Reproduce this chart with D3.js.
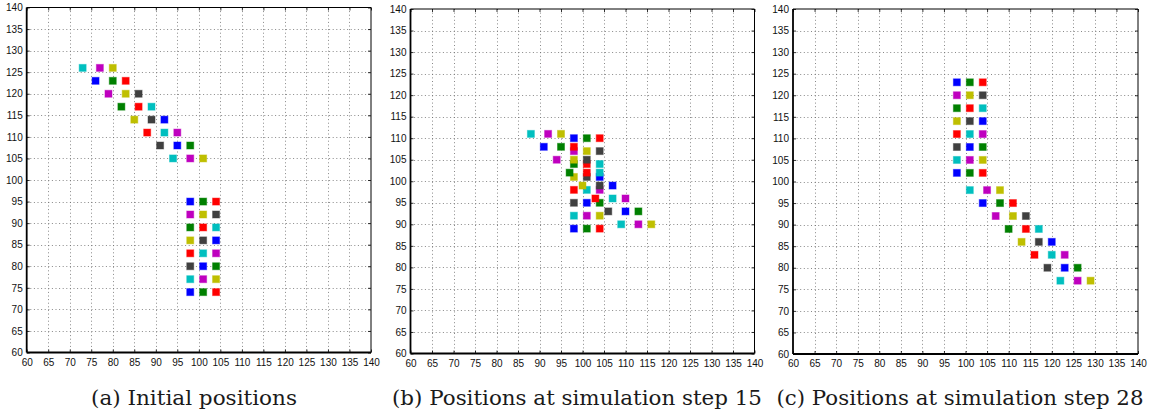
<!DOCTYPE html>
<html>
<head>
<meta charset="utf-8">
<script src="https://cdn.jsdelivr.net/npm/d3@7"></script>
<style>
  html, body { margin: 0; padding: 0; background: #fff; }
  svg { display: block; }
  .cap { font-family: "DejaVu Serif", serif; }
</style>
</head>
<body>
<svg id="chart" width="1151" height="418"></svg>
<script>
// ---------- data ----------
const xTicks = d3.range(60, 141, 5);
const yTicks = d3.range(60, 141, 5);
const colorKeys = ["b", "g", "r", "c", "m", "y", "k"];
const colorValues = ["#0000ff", "#008000", "#ff0000", "#00bfbf", "#bf00bf", "#bfbf00", "#404040"];

const captions = [
  "(a) Initial positions",
  "(b) Positions at simulation step 15",
  "(c) Positions at simulation step 28"
];

// Panel (a): initial positions  [x, y, colour]
const initialRect = [
  [98,95,"b"],[101,95,"g"],[104,95,"r"],
  [98,92,"m"],[101,92,"y"],[104,92,"k"],
  [98,89,"g"],[101,89,"r"],[104,89,"c"],
  [98,86,"y"],[101,86,"k"],[104,86,"b"],
  [98,83,"r"],[101,83,"c"],[104,83,"m"],
  [98,80,"k"],[101,80,"b"],[104,80,"g"],
  [98,77,"c"],[101,77,"m"],[104,77,"y"],
  [98,74,"b"],[101,74,"g"],[104,74,"r"]
];
const initialDiag = [
  [73,126,"c"],[77,126,"m"],[80,126,"y"],
  [76,123,"b"],[80,123,"g"],[83,123,"r"],
  [79,120,"m"],[83,120,"y"],[86,120,"k"],
  [82,117,"g"],[86,117,"r"],[89,117,"c"],
  [85,114,"y"],[89,114,"k"],[92,114,"b"],
  [88,111,"r"],[92,111,"c"],[95,111,"m"],
  [91,108,"k"],[95,108,"b"],[98,108,"g"],
  [94,105,"c"],[98,105,"m"],[101,105,"y"]
];

// Panel (b): step 15
const step15Rect = [
  [98,110,"b"],[101,110,"g"],[104,110,"r"],
  [98,107,"m"],[101,107,"y"],[104,107,"k"],
  [98,104,"g"],[101,104,"r"],[104,104,"c"],
  [98,101,"y"],[101,101,"k"],[104,101,"b"],
  [98,98,"r"],[101,98,"c"],[104,98,"m"],
  [98,95,"k"],[101,95,"b"],[104,95,"g"],
  [98,92,"c"],[101,92,"m"],[104,92,"y"],
  [98,89,"b"],[101,89,"g"],[104,89,"r"]
];
const step15Diag = [
  [88,111,"c"],[92,111,"m"],[95,111,"y"],
  [91,108,"b"],[95,108,"g"],[98,108,"r"],
  [94,105,"m"],[98,105,"y"],[101,105,"k"],
  [97,102,"g"],[101,102,"r"],[104,102,"c"],
  [100,99,"y"],[104,99,"k"],[107,99,"b"],
  [103,96,"r"],[107,96,"c"],[110,96,"m"],
  [106,93,"k"],[110,93,"b"],[113,93,"g"],
  [109,90,"c"],[113,90,"m"],[116,90,"y"]
];

// Panel (c): step 28
const step28Rect = [
  [98,123,"b"],[101,123,"g"],[104,123,"r"],
  [98,120,"m"],[101,120,"y"],[104,120,"k"],
  [98,117,"g"],[101,117,"r"],[104,117,"c"],
  [98,114,"y"],[101,114,"k"],[104,114,"b"],
  [98,111,"r"],[101,111,"c"],[104,111,"m"],
  [98,108,"k"],[101,108,"b"],[104,108,"g"],
  [98,105,"c"],[101,105,"m"],[104,105,"y"],
  [98,102,"b"],[101,102,"g"],[104,102,"r"]
];
const step28Diag = [
  [101,98,"c"],[105,98,"m"],[108,98,"y"],
  [104,95,"b"],[108,95,"g"],[111,95,"r"],
  [107,92,"m"],[111,92,"y"],[114,92,"k"],
  [110,89,"g"],[114,89,"r"],[117,89,"c"],
  [113,86,"y"],[117,86,"k"],[120,86,"b"],
  [116,83,"r"],[120,83,"c"],[123,83,"m"],
  [119,80,"k"],[123,80,"b"],[126,80,"g"],
  [122,77,"c"],[126,77,"m"],[129,77,"y"]
];

// ---------- drawing ----------
const svg = d3.select("#chart");
const color = d3.scaleOrdinal().domain(colorKeys).range(colorValues);

const panels = [
  { box: [26.7, 371.0, 7.5, 352.5], pts: initialRect.concat(initialDiag), cap: captions[0], capX: 194, capW: 206 },
  { box: [410.5, 754.5, 9, 353.5], pts: step15Rect.concat(step15Diag), cap: captions[1], capX: 577, capW: 370 },
  { box: [793.0, 1138.0, 9, 354], pts: step28Rect.concat(step28Diag), cap: captions[2], capX: 960, capW: 367 }
];

const ms = 7; // marker size

panels.forEach(p => {
  const [l, r, t, b] = p.box;
  const x = d3.scaleLinear().domain([60, 140]).range([l, r]);
  const y = d3.scaleLinear().domain([60, 140]).range([b, t]);
  const g = svg.append("g");

  // grid
  const grid = g.append("g").attr("stroke", "#6a6a6a").attr("stroke-width", 0.8)
    .attr("stroke-dasharray", "1,2.6").attr("fill", "none");
  grid.selectAll("line.v").data(xTicks.slice(1, -1)).join("line").attr("class", "v")
    .attr("x1", d => Math.round(x(d)) + 0.5).attr("x2", d => Math.round(x(d)) + 0.5)
    .attr("y1", t).attr("y2", b);
  grid.selectAll("line.h").data(yTicks.slice(1, -1)).join("line").attr("class", "h")
    .attr("y1", d => Math.round(y(d)) + 0.5).attr("y2", d => Math.round(y(d)) + 0.5)
    .attr("x1", l).attr("x2", r);

  // axes with inward ticks
  const axB = d3.axisBottom(x).tickValues(xTicks).tickSizeInner(-3).tickSizeOuter(0).tickPadding(6);
  const axL = d3.axisLeft(y).tickValues(yTicks).tickSizeInner(-3).tickSizeOuter(0).tickPadding(6);
  const axT = d3.axisTop(x).tickValues(xTicks).tickSizeInner(-3).tickSizeOuter(0).tickFormat("");
  const axR = d3.axisRight(y).tickValues(yTicks).tickSizeInner(-3).tickSizeOuter(0).tickFormat("");

  const styleAxis = (sel) => {
    sel.select(".domain").remove();
    sel.selectAll(".tick line").attr("stroke", "#000").attr("stroke-width", 0.8);
    sel.selectAll(".tick text").attr("fill", "#111")
      .style("font-family", "'Liberation Sans', Arial, sans-serif").style("font-size", "10px");
  };
  g.append("g").attr("transform", `translate(0,${b})`).call(axB).call(styleAxis);
  g.append("g").attr("transform", `translate(${l},0)`).call(axL).call(styleAxis)
    .selectAll(".tick text").attr("dx", "2");
  g.append("g").attr("transform", `translate(0,${t})`).call(axT).call(styleAxis);
  g.append("g").attr("transform", `translate(${r},0)`).call(axR).call(styleAxis);

  // box
  g.append("line").attr("x1", l).attr("x2", r).attr("y1", t).attr("y2", t).attr("stroke", "#000").attr("stroke-width", 1);
  g.append("line").attr("x1", r).attr("x2", r).attr("y1", t).attr("y2", b).attr("stroke", "#000").attr("stroke-width", 1);
  g.append("line").attr("x1", l).attr("x2", l).attr("y1", t).attr("y2", b).attr("stroke", "#000").attr("stroke-width", 1.8);
  g.append("line").attr("x1", l).attr("x2", r).attr("y1", b).attr("y2", b).attr("stroke", "#000").attr("stroke-width", 1.8);

  // markers
  g.append("g").selectAll("rect").data(p.pts).join("rect")
    .attr("x", d => x(d[0]) - ms / 2)
    .attr("y", d => y(d[1]) - ms / 2)
    .attr("width", ms).attr("height", ms)
    .attr("fill", d => color(d[2]))
    .attr("stroke", d => color(d[2]))
    .attr("stroke-opacity", 0.45)
    .attr("stroke-width", 1);

  // caption
  svg.append("text")
    .attr("class", "cap")
    .attr("x", p.capX).attr("y", 405)
    .attr("text-anchor", "middle")
    .attr("textLength", p.capW).attr("lengthAdjust", "spacingAndGlyphs")
    .style("font-size", "20px").attr("fill", "#1a1a1a")
    .text(p.cap);
});
</script>
</body>
</html>
